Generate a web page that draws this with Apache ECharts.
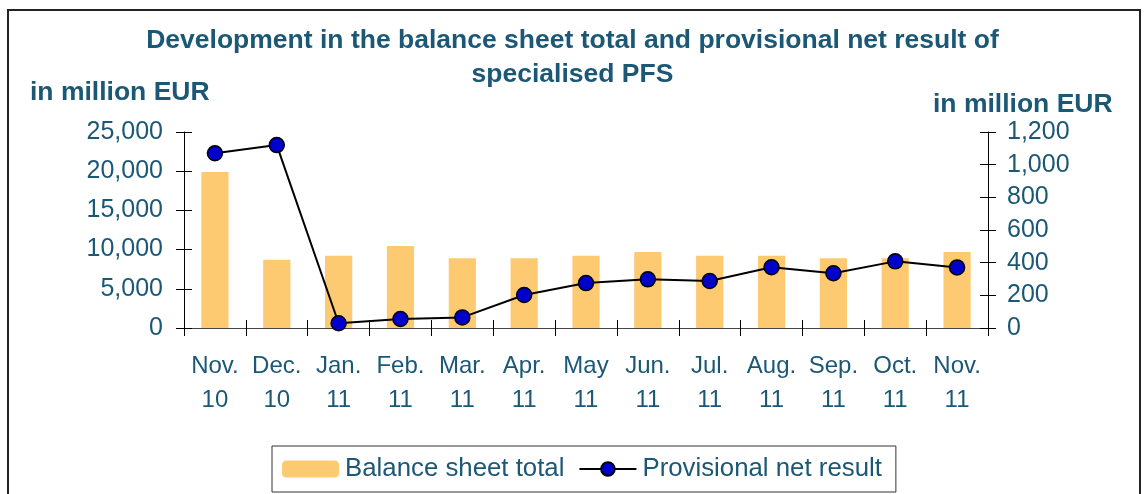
<!DOCTYPE html>
<html><head><meta charset="utf-8">
<script src="https://cdn.jsdelivr.net/npm/echarts@6/dist/echarts.min.js"></script>
<style>html,body{margin:0;padding:0;background:#fff}#c{width:1145px;height:494px}</style>
</head><body><div id="c"></div>
<script>
const categories = ['Nov. 10','Dec. 10','Jan. 11','Feb. 11','Mar. 11','Apr. 11','May 11','Jun. 11','Jul. 11','Aug. 11','Sep. 11','Oct. 11','Nov. 11'];
const balanceSheetTotal = [19900, 8700, 9200, 10450, 8900, 8900, 9200, 9700, 9200, 9200, 8900, 8900, 9700];
const provisionalNetResult = [1070, 1120, 29, 55, 65, 202, 275, 298, 288, 372, 335, 408, 371];
const leftTicks = {min: 0, max: 25000, interval: 5000};
const rightTicks = {min: 0, max: 1200, interval: 200};

const TEAL = '#1b5876';
const FONT = '"Liberation Sans", Arial, sans-serif';
const chart = echarts.init(document.getElementById('c'), null, {renderer: 'canvas'});
const fmt = v => v.toLocaleString('en-US');

const yBase = (t, pos, inside, showLabel, margin) => ({
  type: 'value', position: pos, min: t.min, max: t.max, interval: t.interval,
  splitLine: {show: false},
  axisLine: {show: showLabel, lineStyle: {color: '#000', width: 1}},
  axisTick: {show: true, inside: inside, length: 8, lineStyle: {color: '#000'}},
  axisLabel: {show: showLabel, formatter: fmt, color: TEAL, fontFamily: FONT, fontSize: 25, margin: margin}
});

chart.setOption({
  animation: false,
  textStyle: {fontFamily: FONT},
  title: {
    text: 'Development in the balance sheet total and provisional net result of\nspecialised PFS',
    left: 'center', top: 24, padding: 0,
    textStyle: {color: TEAL, fontFamily: FONT, fontWeight: 'bold', fontSize: 26.5, lineHeight: 34}
  },
  grid: {left: 184, right: 157, top: 132, bottom: 166, containLabel: false},
  legend: {
    left: 272, top: 446,
    padding: [9, 14, 9, 10],
    borderColor: '#333', borderWidth: 1,
    itemWidth: 57, itemHeight: 17, itemGap: 14,
    textStyle: {color: TEAL, fontFamily: FONT, fontSize: 25.8, lineHeight: 28, padding: [0, 0, 0, 1]},
    data: ['Balance sheet total', 'Provisional net result']
  },
  xAxis: [{
    type: 'category', data: categories, position: 'bottom',
    axisLine: {lineStyle: {color: '#444', width: 1}},
    axisTick: {show: true, length: 8, lineStyle: {color: '#000'}},
    axisLabel: {color: TEAL, fontFamily: FONT, fontSize: 24, lineHeight: 34, margin: 21, interval: 0,
      formatter: v => v.replace(' ', '\n')}
  }, {
    type: 'category', data: categories, position: 'bottom',
    axisLine: {show: false},
    axisTick: {show: true, inside: true, length: 8, lineStyle: {color: '#000'}},
    axisLabel: {show: false}
  }],
  yAxis: [
    yBase(leftTicks, 'left', false, true, 21),
    yBase(rightTicks, 'right', false, true, 19),
    yBase(leftTicks, 'left', true, false, 21),
    yBase(rightTicks, 'right', true, false, 19)
  ],
  graphic: [
    {type: 'rect', shape: {x: 8, y: 10, width: 1132, height: 520}, style: {fill: null, stroke: '#222', lineWidth: 2}, silent: true, z: -1},
    {type: 'text', left: 30, top: 79, style: {text: 'in million EUR', fill: TEAL, font: 'bold 26.5px ' + FONT}},
    {type: 'text', left: 933, top: 91, style: {text: 'in million EUR', fill: TEAL, font: 'bold 26.5px ' + FONT}}
  ],
  series: [
    {
      name: 'Balance sheet total', type: 'bar', data: balanceSheetTotal,
      xAxisIndex: 0, yAxisIndex: 0, barWidth: '44%',
      itemStyle: {color: '#fdca72'}
    },
    {
      name: 'Provisional net result', type: 'line', data: provisionalNetResult,
      xAxisIndex: 0, yAxisIndex: 1, symbol: 'circle', symbolSize: 15,
      lineStyle: {color: '#000', width: 2},
      itemStyle: {color: '#0000cc', borderColor: '#000', borderWidth: 1.5},
      z: 5
    }
  ]
});
</script></body></html>
